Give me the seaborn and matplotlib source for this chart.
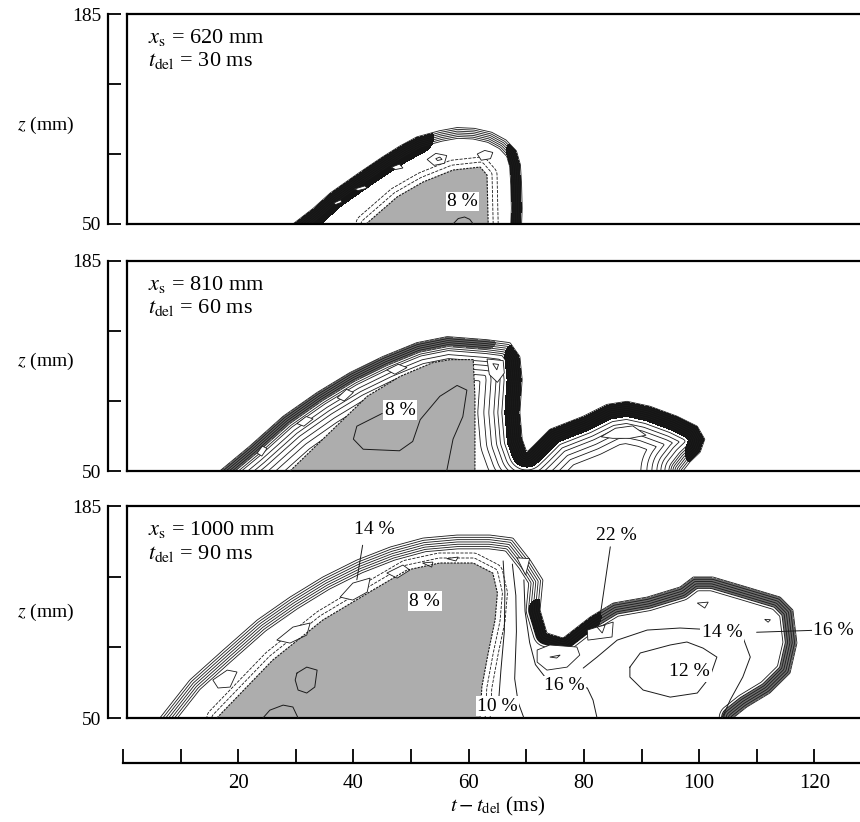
import numpy as np
import matplotlib.pyplot as plt
import seaborn as sns
from matplotlib.path import Path

# ---------------- data (t - t_del in ms, z in mm) ----------------
# panel 1 : x_s = 620 mm, t_del = 30 ms
p1_edge_t = [29.5, 33, 36, 41, 45, 48, 51, 55, 58, 61, 64, 66.5, 68.3, 69, 69.2, 69.3, 69.2]
p1_edge_z = [50, 60, 70, 83, 93, 100, 106, 110, 112, 111.5, 109, 104, 97, 88, 75, 60, 50]
p1_core_t = [42.2, 47.6, 52.1, 57.3, 62, 63.2, 63.4]
p1_core_z = [50, 67.4, 77, 84.7, 86.6, 81.5, 50]
p1_dark = [(0, 6, 17, '#151515'), (12, 16, 10, '#151515')]   # (first seg, last seg, width px, colour)
p1_islands = [
    ([52.8, 54.3, 56.2, 55.8, 54.0], [91.5, 95.4, 94.0, 89.0, 87.7]),
    ([54.3, 55.0, 55.4, 54.6], [92.0, 93.0, 91.5, 90.8]),
    ([61.5, 62.8, 64.2, 63.8, 62.2], [95.0, 97.3, 96.0, 92.0, 91.0]),
    ([46.6, 48.0, 48.6, 47.3], [86.5, 88.5, 86.0, 85.0]),
    ([40.2, 42.0, 42.4, 40.8], [72.5, 74.5, 73.0, 71.5]),
    ([36.6, 37.8, 38.0, 36.9], [63.5, 65.5, 64.0, 62.5]),
]
p1_lines = [([57.3, 58.2, 59.3, 60.2, 60.8], [50, 53.5, 54.5, 53, 50])]
p1_labels = [(58.9, 64.5, '8 %')]

# panel 2 : x_s = 810 mm, t_del = 60 ms
p2_edge_t = [16.8, 22.0, 27.8, 33.7, 39.4, 45.1, 51.0, 56.3, 63.2, 67.2, 68.9, 69.3, 68.9,
             69.3, 70.1, 71.2, 74.1, 79.9, 84.0, 87.5, 91.5, 96.2, 99.7, 101.0, 100.2, 98.4, 97.2]
p2_edge_z = [50, 66, 85.2, 100.5, 113.3, 123.6, 132.5, 136.4, 134.4, 132.5, 123.6, 108.8, 87.7,
             70.4, 62.1, 66, 76.8, 85.2, 92.8, 94.8, 91.6, 85.2, 78.8, 70.4, 62.1, 55.7, 50]
p2_core_t = [29.0, 36.5, 42.4, 48.1, 53.8, 56.8, 60.8, 61.1, 61.1]
p2_core_z = [50, 76.9, 98.0, 110.8, 119.7, 121.6, 121.6, 98.0, 50]
p2_dark = [(0, 8, 9, '#6a6a6a'), (10, 24, 15, '#151515')]
p2_islands = [
    ([63.2, 66.0, 66.2, 65.0, 63.6], [122, 121, 113, 107, 112]),
    ([64.2, 65.2, 64.9], [119, 118.5, 115]),
    ([45.8, 47.8, 49.3, 47.2], [115.0, 118.6, 116.5, 112.2]),
    ([37.2, 38.8, 40.0, 38.4], [97.0, 102.5, 100.5, 95.0]),
    ([30.2, 31.8, 33.0, 31.4], [80.5, 85.0, 83.5, 78.8]),
    ([23.3, 24.2, 25.0, 24.1], [61.5, 66.0, 64.5, 59.6]),
    ([83.0, 85.5, 88.5, 90.8, 88.0, 85.0], [72.0, 77.5, 79.0, 73.0, 71.0, 71.0]),
]
p2_lines = [([45.0, 40.6, 40.0, 41.7, 48.0, 50.3, 51.6, 55.0, 58.0, 59.7, 59.0, 57.3, 56.2],
             [87.0, 78.8, 70.5, 64.0, 63.0, 69.0, 83.0, 98.0, 105.0, 102.0, 85.0, 70.5, 50])]
p2_labels = [(48.1, 89.0, '8 %')]

# panel 3 : x_s = 1000 mm, t_del = 90 ms
p3_edge_t = [6.4, 11.6, 17.4, 23.3, 29.0, 34.7, 40.6, 46.4, 52.1, 58.0, 63.7, 67.7, 70.7,
             72.9, 72.4, 73.6, 76.4, 81.1, 85.1, 91.0, 96.7, 99.0, 102.4, 108.3, 114.1,
             116.3, 117.0, 115.8, 112.3, 108.3, 105.9]
p3_edge_z = [50, 74.2, 93.3, 112.4, 127.0, 139.8, 150.6, 158.9, 164.6, 166.5, 166.5, 164.6,
             150.6, 137.9, 118.8, 104.1, 100.9, 114.3, 123.2, 127.0, 133.4, 139.8, 139.8,
             133.4, 127.0, 118.8, 97.7, 78.6, 65.9, 57.0, 50]
p3_core_t = [16.3, 26.0, 34.7, 43.4, 49.3, 55.0, 60.8, 64.2, 65.0, 64.6, 63.4, 62.3, 62.0]
p3_core_z = [50, 86.9, 112.4, 131.5, 144.2, 148.7, 148.7, 142.3, 129.6, 112.4, 91.4, 69.7, 50]
p3_dark = [(17, 30, 11, '#6e6e6e'), (14, 17, 11, '#151515')]
p3_islands = [
    ([37.7, 39.9, 42.9, 42.4, 39.9], [127.0, 135.9, 139.1, 130.2, 125.1]),
    ([45.8, 48.6, 49.8, 47.6], [142.3, 147.4, 144.2, 139.1]),
    ([26.7, 29.5, 32.5, 31.9, 29.0], [99.6, 107.9, 110.5, 102.8, 97.7]),
    ([15.6, 18.1, 19.8, 18.6, 16.5], [74.2, 80.5, 79.3, 69.7, 69.1]),
    ([52.0, 53.8, 53.6], [148.7, 149.3, 146.1]),
    ([56.2, 58.2, 57.8], [151.5, 152.5, 150.0]),
    ([80.6, 85.1, 84.9, 80.7], [106.0, 111.1, 101.6, 99.6]),
    ([82.3, 83.7, 83.2], [107.9, 109.2, 104.1]),
    ([71.9, 74.1, 78.8, 79.3, 77.1, 73.6, 71.9], [93.3, 96.5, 95.2, 90.1, 82.4, 80.5, 85.6]),
    ([74.1, 75.9, 75.3], [88.8, 90.1, 88.2]),
    ([99.7, 101.6, 101.0], [123.2, 123.8, 120.0]),
    ([111.4, 112.4, 112.0], [112.8, 112.6, 111.0]),
    ([68.4, 70.6, 69.9], [152.0, 151.5, 141.0]),
]
p3_lines = [
    ([30.2, 31.9, 33.7, 33.3, 31.9, 30.4, 29.9, 30.2], [78.6, 82.4, 80.5, 69.7, 65.9, 67.8, 74.2, 78.6]),
    ([24.3, 25.5, 27.8, 29.5, 30.4], [50, 55, 58.2, 57, 50]),
    ([88.0, 89.8, 95.0, 97.9, 100.7, 103.1, 101.9, 99.7, 95.0, 90.3, 88.0, 88.0],
     [82.4, 91.4, 96.5, 98.4, 94.5, 88.8, 76.1, 65.9, 63.3, 67.8, 76.1, 82.4]),
    ([79.9, 82.3, 85.8, 91.0, 96.7, 100.2, 107.6, 108.9, 107.6, 105.4, 104.0],
     [81.8, 88.8, 99.6, 106.0, 107.3, 106.6, 101.6, 88.8, 76.1, 61.4, 50]),
    ([69.6, 69.8, 70.6, 71.6, 73.5, 76.7, 80.6, 81.6, 82.3], [138, 118, 98, 84, 75, 71, 69.1, 61.4, 50]),
    ([66.0, 66.3, 66.2, 65.6, 65.2], [150, 130, 105, 80, 60]),
    ([67.6, 68.2, 68.3, 68.0, 68.6, 69.6], [148, 128, 105, 75, 60, 50]),
    ([41.6, 40.6], [160.0, 138.0]),           # leader 14 %
    ([84.6, 82.6], [159.0, 109.0]),           # leader 22 %
    ([110.0, 119.6], [104.6, 105.8]),         # leader 16 %
]
p3_labels = [(52.4, 124.5, '8 %'), (43.6, 170.0, '14 %'), (85.6, 166.5, '22 %'),
             (104.0, 104.5, '14 %'), (98.4, 79.5, '12 %'), (76.7, 70.5, '16 %'),
             (65.0, 57.5, '10 %'), (123.4, 105.5, '16 %')]

runs = ['$x_{\\rm s}$ = 620 mm', '$x_{\\rm s}$ = 810 mm', '$x_{\\rm s}$ = 1000 mm']
delays = ['$t_{\\rm del}$ = 30 ms', '$t_{\\rm del}$ = 60 ms', '$t_{\\rm del}$ = 90 ms']
z_ticks = [50, 95, 140, 185]
z_tick_labels = ['50', '', '', '185']
t_ticks = [0, 10, 20, 30, 40, 50, 60, 70, 80, 90, 100, 110, 120, 130]
t_tick_labels = ['', '', '20', '', '40', '', '60', '', '80', '', '100', '', '120', '']

# ---------------- style ----------------
sns.set_theme(style='white')
plt.rcParams['font.family'] = ['Liberation Serif', 'DejaVu Serif']
plt.rcParams['mathtext.fontset'] = 'stix'
for k in ['axes.edgecolor', 'xtick.color', 'ytick.color', 'text.color', 'axes.labelcolor']:
    plt.rcParams[k] = 'black'

W, H = 860, 822
PX_T, PX_Z = 5.76, 1.57          # pixels per ms / per mm on the page
tt = np.arange(0, 131.01, 0.25)
zz = np.arange(50, 185.01, 0.6)
T, Z = np.meshgrid(tt, zz)
XP, YP = T * PX_T, Z * PX_Z
PTS = np.c_[T.ravel(), Z.ravel()]


def dist_to_line(ts, zs):
    d = np.full(T.shape, np.inf)
    for i in range(len(ts) - 1):
        x0, y0 = ts[i] * PX_T, zs[i] * PX_Z
        dx, dy = ts[i + 1] * PX_T - x0, zs[i + 1] * PX_Z - y0
        u = np.clip(((XP - x0) * dx + (YP - y0) * dy) / (dx * dx + dy * dy), 0, 1)
        d = np.minimum(d, np.hypot(XP - x0 - u * dx, YP - y0 - u * dy))
    return d


def signed(ts, zs):
    d = dist_to_line(ts, zs)
    verts = list(zip(ts, zs)) + [(ts[-1], 40), (ts[0], 40)]
    inside = Path(verts).contains_points(PTS).reshape(T.shape)
    return np.where(inside, d, -d)


def box(l, t, r, b):
    return [l / W, 1 - b / H, (r - l) / W, (b - t) / H]


def draw(ax, edge_t, edge_z, levels, dark, core_t, core_z, core_lv, islands, lines, labels):
    sd = signed(edge_t, edge_z)
    for i0, i1, w, c in dark:
        dd = dist_to_line(edge_t[i0:i1 + 1], edge_z[i0:i1 + 1])
        ax.contourf(T, Z, np.maximum(1.0 - sd, dd - w), levels=[-1e9, 0],
                    colors=[c], zorder=0.8)
    ax.contour(T, Z, sd, levels=levels, colors='k', linewidths=0.6, zorder=1)
    if core_lv:
        cd = np.ma.masked_where(sd < levels[-1] - 1, signed(core_t, core_z))
        ax.contour(T, Z, cd, levels=core_lv, colors='k', linewidths=0.6, zorder=1)
    ax.fill(core_t, core_z, color='#adadad', lw=0, zorder=2)
    ax.plot(core_t, core_z, color='k', lw=0.8, ls=(0, (2, 1)), zorder=3)
    for it, iz in islands:
        ax.fill(it, iz, facecolor='white', edgecolor='k', lw=0.6, zorder=2.5)
    for lt, lz in lines:
        ax.plot(lt, lz, color='k', lw=0.7, zorder=3)
    for x, y, s in labels:
        ax.text(x, y, s, ha='center', va='center', fontsize=14, zorder=5,
                bbox=dict(facecolor='white', edgecolor='none', pad=1.0))


fig = plt.figure(figsize=(W / 100, H / 100), dpi=100)
rows = [(14, 224, 0.47), (261, 471, 0.52), (506, 718, 0.50)]
specs = [
    (p1_edge_t, p1_edge_z, list(np.arange(0, 11, 1.8)), p1_dark, p1_core_t, p1_core_z, [-10, -5],
     p1_islands, p1_lines, p1_labels),
    (p2_edge_t, p2_edge_z, list(np.arange(0, 15, 2.0)) + [18, 22, 26, 31, 36, 42], p2_dark,
     p2_core_t, p2_core_z, None, p2_islands, p2_lines, p2_labels),
    (p3_edge_t, p3_edge_z, list(np.arange(0, 15, 2.3)), p3_dark, p3_core_t, p3_core_z, [-10, -5],
     p3_islands, p3_lines, p3_labels),
]

for k, ((top, bot, ymid), spec) in enumerate(zip(rows, specs)):
    ax = fig.add_axes(box(127, top, 872, bot))
    ax.set_xlim(0.7, 130.03)
    ax.set_ylim(50, 185)
    ax.set_xticks([])
    ax.set_yticks([])
    for s in ax.spines.values():
        s.set_linewidth(1.6)
        s.set_color('black')
    draw(ax, *spec)
    ax.text(4.3, 170, runs[k], fontsize=16, va='center', zorder=6)
    ax.text(4.3, 155, delays[k], fontsize=16, va='center', zorder=6)
    sec = ax.secondary_yaxis(-19 / 745)
    sec.set_yticks(z_ticks, labels=z_tick_labels)
    sec.tick_params(axis='y', left=True, direction='in', length=9, width=1.3,
                    labelsize=14, pad=5)
    sec.spines['left'].set_linewidth(1.6)
    ax.text(-81 / 745, ymid, '$z$ (mm)', transform=ax.transAxes, ha='center', va='center',
            fontsize=14)

axb = fig.add_axes(box(123, 730, 872, 763))
axb.set_xlim(0, 130)
axb.patch.set_alpha(0)
for s in ['top', 'left', 'right']:
    axb.spines[s].set_visible(False)
axb.spines['bottom'].set_linewidth(1.6)
axb.set_yticks([])
axb.set_xticks(t_ticks, labels=t_tick_labels)
axb.tick_params(axis='x', bottom=True, direction='in', length=10, width=1.3,
                labelsize=15, pad=8)
axb.set_xlabel('$t - t_{\\rm del}$ (ms)', fontsize=15, labelpad=1)

fig.savefig('out.png', dpi=100)
